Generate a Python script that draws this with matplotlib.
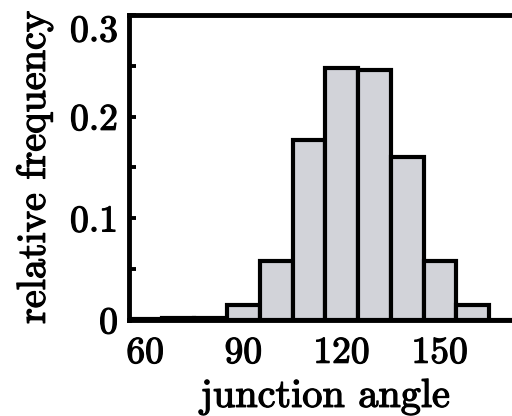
import matplotlib
matplotlib.use("Agg")
import matplotlib.pyplot as plt
import matplotlib.patheffects as pe
import numpy as np

# ── Data ──
bin_centers = [60, 70, 80, 90, 100, 110, 120, 130, 140, 150, 160, 170]
rel_freq = [0.0005, 0.002, 0.002, 0.015, 0.058, 0.177, 0.248, 0.246, 0.160, 0.058, 0.015, 0.0]
x_ticks = [60, 90, 120, 150]
y_ticks = [0, 0.1, 0.2, 0.3]
y_labels = ["0", "0.1", "0.2", "0.3"]

plt.rcParams["font.family"] = "cmr10"
plt.rcParams["axes.formatter.use_mathtext"] = True

# slightly heavier strokes, like the blurry scan
thick = [pe.withStroke(linewidth=0.9, foreground="black")]

fig = plt.figure(figsize=(5.12, 4.16), dpi=100)
ax = fig.add_axes([0.252, 0.231, 0.767, 0.733])

ax.bar(bin_centers, rel_freq, width=10, color="#d2d3d9",
       edgecolor="black", linewidth=3.0, zorder=2)

ax.set_xlim(55, 175)
ax.set_ylim(0, 0.3)

ax.set_xticks(x_ticks)
ax.set_yticks(y_ticks)
ax.set_yticklabels(y_labels)
ax.set_yticks(np.arange(0.05, 0.3, 0.1), minor=True)
ax.tick_params(axis="both", which="both", direction="in", labelsize=27,
               width=2.8, length=5, pad=8)
ax.tick_params(axis="x", which="both", length=0, pad=12)

for lab in ax.get_xticklabels() + ax.get_yticklabels():
    lab.set_path_effects(thick)
# top label sits below its tick so it stays inside the picture
ax.get_yticklabels()[-1].set_va("top")

for s in ax.spines.values():
    s.set_linewidth(3.5)
    s.set_zorder(3)

ax.set_xlabel("junction angle", fontsize=29, va="baseline", path_effects=thick)
ax.xaxis.set_label_coords(0.5, -0.285)
ax.set_ylabel("relative frequency", fontsize=29, va="center", path_effects=thick)
ax.yaxis.set_label_coords(-0.24, 0.5)

fig.savefig("out.png", dpi=100)
